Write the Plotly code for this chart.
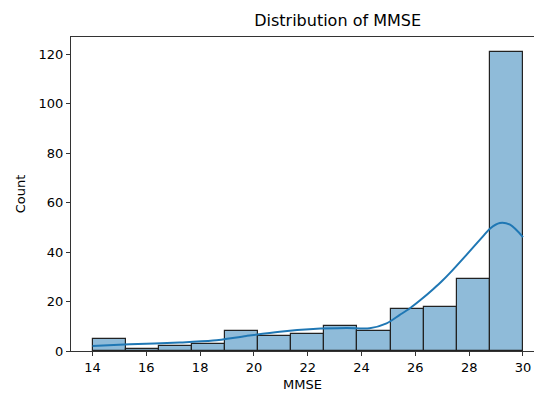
import numpy as np
import plotly.graph_objects as go

# Histogram data (13 bins between 14 and 30)
bin_min = 14
bin_max = 30
n_bins = 13
counts = [5, 1, 2, 3, 8, 6, 7, 10, 8, 17, 18, 29, 121]

# KDE curve (count scale)
kde_x = [14.0, 15.38, 17.24, 18.48, 19.72, 20.96, 22.2, 23.44, 24.3, 24.93, 25.42,
         25.8, 26.2, 26.66, 27.0, 27.28, 27.9, 28.52, 28.77, 29.14, 29.52, 30.0]
kde_y = [2.0, 2.7, 3.4, 4.2, 6.1, 7.8, 8.9, 9.3, 9.2, 11.2, 14.6,
         17.3, 20.7, 25.0, 28.4, 31.5, 38.9, 46.5, 49.5, 51.8, 51.1, 46.1]

x_ticks = [14, 16, 18, 20, 22, 24, 26, 28, 30]
y_ticks = [0, 20, 40, 60, 80, 100, 120]

edges = np.linspace(bin_min, bin_max, n_bins + 1)
centers = (edges[:-1] + edges[1:]) / 2
width = edges[1] - edges[0]

fig = go.Figure()
fig.add_trace(go.Bar(
    x=centers, y=counts, width=[width] * n_bins,
    marker=dict(color="rgba(31,119,180,0.5)", line=dict(color="#222222", width=1.2)),
    showlegend=False, hoverinfo="skip",
))
fig.add_trace(go.Scatter(
    x=kde_x, y=kde_y, mode="lines",
    line=dict(color="#1f77b4", width=2, shape="spline", smoothing=0.8),
    showlegend=False,
))

font = "DejaVu Sans"
fig.update_layout(
    width=534, height=394,
    margin=dict(l=71, r=0, t=37, b=43, autoexpand=False),
    paper_bgcolor="white", plot_bgcolor="white",
    bargap=0,
    font=dict(family=font, size=13, color="black"),
    title=dict(text="Distribution of MMSE", x=307.5 / 534, xanchor="center", xref="paper",
               y=1 - 20 / 394, yanchor="middle", yref="container",
               font=dict(family=font, size=16, color="black")),
)
fig.update_xaxes(
    range=[13.2, 30.41], tickvals=x_ticks, ticktext=[str(t) for t in x_ticks],
    showgrid=False, zeroline=False, showline=True, linecolor="#333333", linewidth=1,
    mirror=True, ticks="outside", ticklen=4, tickcolor="#333333", automargin=False,
    title=dict(text="MMSE", font=dict(family=font, size=13), standoff=6),
)
fig.update_yaxes(
    range=[0, 127.05], tickvals=y_ticks, ticktext=[str(t) for t in y_ticks],
    showgrid=False, zeroline=False, showline=True, linecolor="#333333", linewidth=1,
    ticks="outside", ticklen=4, tickcolor="#333333", automargin=False,
    title=dict(text="Count", font=dict(family=font, size=13), standoff=10),
)

fig.write_html("out.html", config={"displayModeBar": False},
               post_script="document.body.style.margin='0';document.body.style.padding='0';")
